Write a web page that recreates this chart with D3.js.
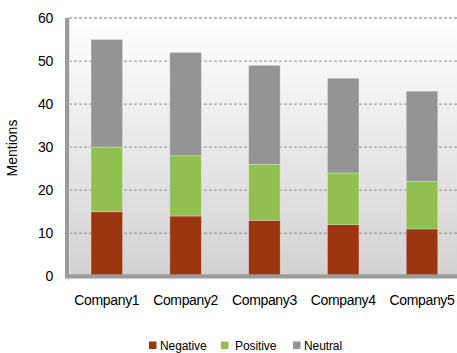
<!DOCTYPE html>
<html>
<head>
<meta charset="utf-8">
<script src="https://cdn.jsdelivr.net/npm/d3@7"></script>
<style>
  html, body { margin: 0; padding: 0; background: #fff; }
  svg { display: block; font-family: "Liberation Sans", Arial, sans-serif; }
</style>
</head>
<body>
<svg id="chart" width="457" height="353"></svg>
<script>
// Mentions per company, split by sentiment
const companies = ["Company1", "Company2", "Company3", "Company4", "Company5"];
const negative  = [15, 14, 13, 12, 11];
const positive  = [15, 14, 13, 12, 11];
const neutral   = [25, 24, 23, 22, 21];
const seriesNames = ["Negative", "Positive", "Neutral"];
const yTicks = [0, 10, 20, 30, 40, 50, 60];

const colors = { Negative: "#9c3610", Positive: "#92c050", Neutral: "#949494" };

const svg = d3.select("#chart");

const plot = { left: 65, right: 457, top: 18, bottom: 276.3 };

const x = d3.scaleBand()
  .domain(companies)
  .range([67.4, 461.4])
  .paddingInner(0.6)
  .paddingOuter(0.3);

const y = d3.scaleLinear()
  .domain([0, 60])
  .range([plot.bottom, plot.top]);

// background gradient of the plot area
const defs = svg.append("defs");
const grad = defs.append("linearGradient")
  .attr("id", "bg").attr("x1", 0).attr("y1", 0).attr("x2", 0).attr("y2", 1);
grad.append("stop").attr("offset", "0%").attr("stop-color", "#ffffff");
grad.append("stop").attr("offset", "100%").attr("stop-color", "#d2d2d2");

svg.append("rect")
  .attr("x", plot.left + 4).attr("y", plot.top)
  .attr("width", plot.right - plot.left - 4)
  .attr("height", plot.bottom - plot.top)
  .attr("fill", "url(#bg)");

// dashed gridlines
svg.append("g").selectAll("line")
  .data(yTicks.filter(d => d > 0))
  .join("line")
  .attr("x1", plot.left + 4).attr("x2", plot.right)
  .attr("y1", d => y(d)).attr("y2", d => y(d))
  .attr("stroke", "#a4a4a4")
  .attr("stroke-width", 1.3)
  .attr("stroke-dasharray", "3,2");

// stacked bars
const table = companies.map((c, i) => ({
  company: c,
  Negative: negative[i],
  Positive: positive[i],
  Neutral: neutral[i]
}));
const stack = d3.stack().keys(seriesNames)(table);

svg.append("g").selectAll("g")
  .data(stack)
  .join("g")
  .attr("fill", d => colors[d.key])
  .selectAll("rect")
  .data(d => d)
  .join("rect")
  .attr("x", d => x(d.data.company))
  .attr("width", x.bandwidth())
  .attr("y", d => y(d[1]))
  .attr("height", d => y(d[0]) - y(d[1]))
  .attr("stroke", "rgba(255,255,255,0.35)")
  .attr("stroke-width", 0.8);

// left wall and floor of the plot
svg.append("rect")
  .attr("x", plot.left + 1).attr("y", plot.top + 1)
  .attr("width", 4).attr("height", plot.bottom - plot.top + 3)
  .attr("fill", "#e2e2e2");
svg.append("rect")
  .attr("x", plot.left).attr("y", plot.top)
  .attr("width", 4).attr("height", plot.bottom - plot.top + 2)
  .attr("fill", "#9a9a9a");
svg.append("rect")
  .attr("x", plot.left + 1).attr("y", plot.bottom - 1)
  .attr("width", plot.right - plot.left).attr("height", 4)
  .attr("fill", "#e2e2e2");
svg.append("rect")
  .attr("x", plot.left).attr("y", plot.bottom - 2)
  .attr("width", plot.right - plot.left).attr("height", 4)
  .attr("fill", "#9a9a9a");

// y axis labels
const yAxis = d3.axisLeft(y).tickValues(yTicks).tickSize(0).tickPadding(0);
const gy = svg.append("g")
  .attr("transform", `translate(53,0)`)
  .call(yAxis);
gy.select(".domain").remove();
gy.selectAll("text")
  .attr("fill", "#000")
  .attr("font-size", "14px")
  .attr("letter-spacing", "-0.3px")
  .attr("font-family", "'Liberation Sans', Arial, sans-serif");

// x axis labels
const xAxis = d3.axisBottom(x).tickSize(0).tickPadding(0);
const gx = svg.append("g")
  .attr("transform", `translate(0,295)`)
  .call(xAxis);
gx.select(".domain").remove();
gx.selectAll("text")
  .attr("fill", "#000")
  .attr("font-size", "14px")
  .attr("letter-spacing", "-0.35px")
  .attr("font-family", "'Liberation Sans', Arial, sans-serif");

// y axis title
svg.append("text")
  .attr("transform", "translate(17,148) rotate(-90)")
  .attr("text-anchor", "middle")
  .attr("font-size", "14px")
  .attr("letter-spacing", "0px")
  .text("Mentions");

// legend
const legendX = [149, 221, 293];
const legend = svg.append("g").selectAll("g")
  .data(seriesNames)
  .join("g")
  .attr("transform", (d, i) => `translate(${legendX[i]},341.5)`);
legend.append("rect")
  .attr("width", 7.5).attr("height", 7.5)
  .attr("fill", d => colors[d]);
legend.append("text")
  .attr("x", d => d === "Positive" ? 14 : 11)
  .attr("y", 8.5)
  .attr("font-size", "12px")
  .attr("letter-spacing", "-0.1px")
  .text(d => d);
</script>
</body>
</html>
